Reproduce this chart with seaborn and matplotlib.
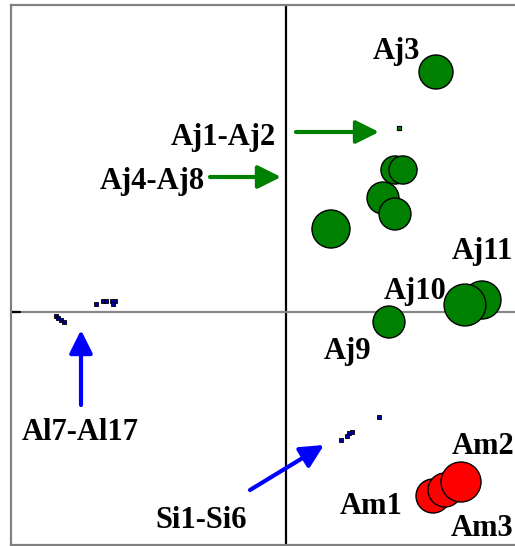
import matplotlib
matplotlib.use("Agg")
import matplotlib.pyplot as plt
import seaborn as sns
import pandas as pd
import numpy as np

sns.set_style("white")
plt.rcParams['font.family'] = ['Liberation Serif', 'DejaVu Serif']

# ---- data (score-plot coordinates) ----
green_names = ["Aj11", "Aj10", "Aj3", "Aj4", "Aj5", "Aj6", "Aj7", "Aj8", "Aj9"]
green_x = [1.96, 1.79, 1.50, 1.09, 1.17, 0.97, 1.09, 0.45, 1.03]
green_y = [0.12, 0.07, 2.40, 1.42, 1.42, 1.14, 0.98, 0.83, -0.10]
green_s = [750, 910, 600, 410, 410, 530, 530, 750, 530]

red_names = ["Am1", "Am3", "Am2"]
red_x = [1.47, 1.59, 1.75]
red_y = [-1.84, -1.78, -1.70]
red_s = [600, 600, 830]

aj12_x = [1.13, 1.13]
aj12_y = [1.84, 1.84]

al_x = [-2.30, -2.28, -2.25, -2.22, -1.90, -1.83, -1.80, -1.74, -1.71, -1.73]
al_y = [-0.04, -0.06, -0.08, -0.10, 0.08, 0.11, 0.11, 0.11, 0.11, 0.08]

si_x = [0.93, 0.66, 0.63, 0.61, 0.55]
si_y = [-1.05, -1.20, -1.21, -1.24, -1.28]

labels = ["Aj3", "Aj1-Aj2", "Aj4-Aj8", "Aj11", "Aj10", "Aj9", "Al7-Al17", "Si1-Si6", "Am2", "Am1", "Am3"]
label_x = [1.10, -0.63, -1.34, 1.96, 1.29, 0.62, -2.06, -0.85, 2.28, 0.85, 2.27]
label_y = [2.60, 1.75, 1.30, 0.60, 0.21, -0.40, -1.20, -2.09, -1.34, -1.95, -2.16]
label_ha = ["center"] * 8 + ["right", "center", "right"]

fig = plt.figure(figsize=(5.15, 5.46), dpi=100)
ax = fig.add_axes([11/515, 1/546, 1 - 11/515, 540/546])
ax.set_xlim(-2.75, 2.29)
ax.set_ylim(-2.33, 3.07)

gdf = pd.DataFrame({"x": green_x, "y": green_y, "s": green_s})
rdf = pd.DataFrame({"x": red_x, "y": red_y, "s": red_s})

# crosshair
ax.axvline(0, color="black", lw=1.6, zorder=1)
ax.axhline(0, color="#888888", lw=1.6, zorder=1)
ax.plot([-2.75, -2.66], [0, 0], color="black", lw=1.6, zorder=1)

sns.scatterplot(data=gdf, x="x", y="y", size="s", sizes=(min(green_s), max(green_s)),
                size_norm=(min(green_s), max(green_s)), color="#008000",
                edgecolor="black", linewidth=1, legend=False, ax=ax, zorder=3)
sns.scatterplot(data=rdf, x="x", y="y", size="s", sizes=(min(red_s), max(red_s)),
                size_norm=(min(red_s), max(red_s)), color="#ff0000",
                edgecolor="black", linewidth=1, legend=False, ax=ax, zorder=3)
sns.scatterplot(x=aj12_x, y=aj12_y, marker="s", s=12, color="#008000",
                edgecolor="black", linewidth=0.8, legend=False, ax=ax, zorder=3)
sns.scatterplot(x=al_x, y=al_y, marker="s", s=12, color="#0000a0",
                edgecolor="black", linewidth=0.6, legend=False, ax=ax, zorder=3)
sns.scatterplot(x=si_x, y=si_y, marker="s", s=12, color="#0000a0",
                edgecolor="black", linewidth=0.6, legend=False, ax=ax, zorder=3)

for t, x, y, ha in zip(labels, label_x, label_y, label_ha):
    ax.text(x, y, t, fontsize=22, fontweight="bold", ha=ha, va="center",
            color="black", zorder=4)

arrows = [((0.10, 1.80), (0.93, 1.80), "#008000"),
          ((-0.76, 1.35), (-0.05, 1.35), "#008000"),
          ((-2.05, -0.93), (-2.05, -0.18), "#0000ff"),
          ((-0.36, -1.78), (0.38, -1.33), "#0000ff")]
for (x0, y0), (x1, y1), c in arrows:
    ax.annotate("", xy=(x1, y1), xytext=(x0, y0),
                arrowprops=dict(arrowstyle="-|>,head_length=0.7,head_width=0.35",
                                lw=3, color=c, mutation_scale=20, shrinkA=0, shrinkB=0),
                zorder=2)

for side in ["left", "top", "bottom"]:
    ax.spines[side].set_color("#808080")
    ax.spines[side].set_linewidth(1.6)
ax.spines["right"].set_visible(False)
ax.set_xticks([])
ax.set_yticks([])
ax.set_xlabel("")
ax.set_ylabel("")

fig.savefig("out.png", dpi=100)
